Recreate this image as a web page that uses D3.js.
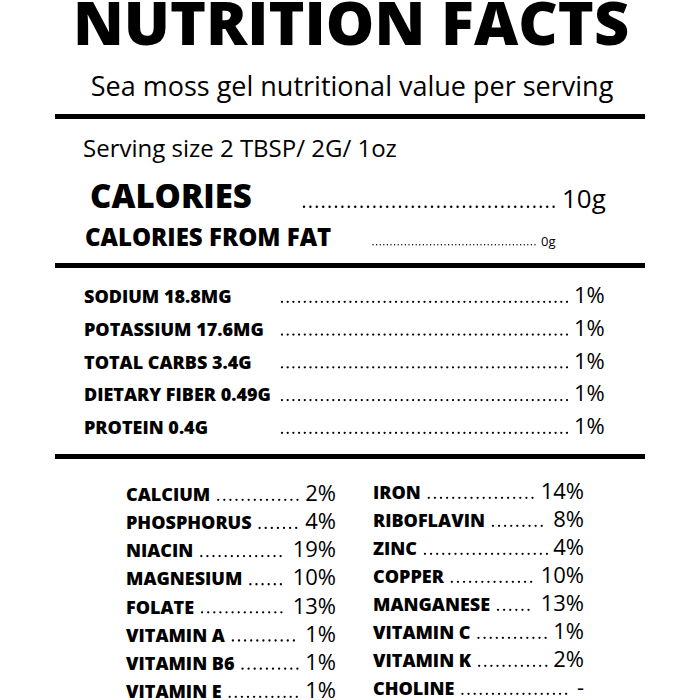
<!DOCTYPE html>
<html>
<head>
<meta charset="utf-8">
<script src="https://cdn.jsdelivr.net/npm/d3@7"></script>
<style>
  html, body { margin: 0; padding: 0; background: #fff; }
  svg { display: block; font-family: "Open Sans", sans-serif; }
</style>
</head>
<body>
<div id="stage"></div>
<script>
(function(d3) {
    'use strict';

    // label text
    var title = 'NUTRITION FACTS',
        subtitle = 'Sea moss gel nutritional value per serving',
        serving = 'Serving size 2 TBSP/ 2G/ 1oz';

    var calorieLabels = ['CALORIES', 'CALORIES FROM FAT'],
        calorieValues = ['10g', '0g'];

    var nutrients = ['SODIUM 18.8MG', 'POTASSIUM 17.6MG', 'TOTAL CARBS 3.4G', 'DIETARY FIBER 0.49G', 'PROTEIN 0.4G'],
        nutrientPct = [1, 1, 1, 1, 1];

    var leftVits = ['CALCIUM', 'PHOSPHORUS', 'NIACIN', 'MAGNESIUM', 'FOLATE', 'VITAMIN A', 'VITAMIN B6', 'VITAMIN E'],
        leftPct = [2, 4, 19, 10, 13, 1, 1, 1],
        rightVits = ['IRON', 'RIBOFLAVIN', 'ZINC', 'COPPER', 'MANGANESE', 'VITAMIN C', 'VITAMIN K', 'CHOLINE'],
        rightPct = [14, 8, 4, 10, 13, 1, 2, null];

    var svg = d3.select('#stage')
        .append('svg')
        .attr('width', 700)
        .attr('height', 700);

    function pct(v) { return v == null ? '-' : v + '%'; }

    // dotted leader between a label and its value
    function leader(x1, x2, y, gap, r) {
        svg.append('line')
            .attr('x1', x1).attr('x2', x2)
            .attr('y1', y).attr('y2', y)
            .style('stroke', '#000')
            .style('stroke-width', r)
            .style('stroke-linecap', 'round')
            .style('stroke-dasharray', '0 ' + gap);
    }

    function rule(y) {
        svg.append('rect')
            .attr('x', 55).attr('y', y)
            .attr('width', 590).attr('height', 5)
            .style('fill', '#000');
    }

    // header
    svg.append('text')
        .attr('x', 351).attr('y', 45)
        .attr('text-anchor', 'middle')
        .style('font-size', '61px')
        .style('font-weight', 800)
        .text(title);

    svg.append('text')
        .attr('x', 352).attr('y', 96)
        .attr('text-anchor', 'middle')
        .style('font-size', '27px')
        .style('font-weight', 400)
        .text(subtitle);

    rule(114);

    svg.append('text')
        .attr('x', 83).attr('y', 157)
        .style('font-size', '24px')
        .style('font-weight', 400)
        .text(serving);

    // calories block
    var cal = [
        {label: calorieLabels[0], value: calorieValues[0], x: 90, y: 208, size: 33, vsize: 26, d1: 304, d2: 559, gap: 6.4, r: 2.4},
        {label: calorieLabels[1], value: calorieValues[1], x: 85, y: 246, size: 24, vsize: 13, d1: 373, d2: 538, gap: 3.6, r: 1.4}
    ];

    cal.forEach(function(c) {
        svg.append('text')
            .attr('x', c.x).attr('y', c.y)
            .style('font-size', c.size + 'px')
            .style('font-weight', 800)
            .text(c.label);
        leader(c.d1, c.d2, c.y - 1.2, c.gap, c.r);
        svg.append('text')
            .attr('x', c.d2 + 3).attr('y', c.y)
            .style('font-size', c.vsize + 'px')
            .style('font-weight', 400)
            .text(c.value);
    });

    rule(263);

    // main nutrients
    var yMain = d3.scalePoint()
        .domain(nutrients)
        .range([303, 434]);

    nutrients.forEach(function(n, i) {
        var y = yMain(n);
        svg.append('text')
            .attr('x', 84).attr('y', y)
            .style('font-size', '18px')
            .style('font-weight', 800)
            .text(n);
        leader(282, 571, y - 1.2, 5.7, 2.3);
        svg.append('text')
            .attr('x', 574).attr('y', y)
            .style('font-size', '22px')
            .style('font-weight', 400)
            .text(pct(nutrientPct[i]));
    });

    rule(454);

    // vitamin columns
    function column(labels, values, x0, xEnd, y0, y1) {
        var y = d3.scalePoint().domain(labels).range([y0, y1]);
        labels.forEach(function(n, i) {
            var t = svg.append('text')
                .attr('x', x0).attr('y', y(n))
                .style('font-size', '18px')
                .style('font-weight', 800)
                .text(n);
            var v = svg.append('text')
                .attr('x', xEnd).attr('y', y(n))
                .attr('text-anchor', 'end')
                .style('font-size', '22px')
                .style('font-weight', 400)
                .text(pct(values[i]));
            var lw = t.node().getComputedTextLength(),
                vw = v.node().getComputedTextLength();
            leader(x0 + lw + 8, xEnd - vw - 6, y(n) - 1.2, 6.1, 2.3);
        });
    }

    column(leftVits, leftPct, 126, 336, 501, 698);
    column(rightVits, rightPct, 373, 584, 499, 695);

})(window.d3);
</script>
</body>
</html>
